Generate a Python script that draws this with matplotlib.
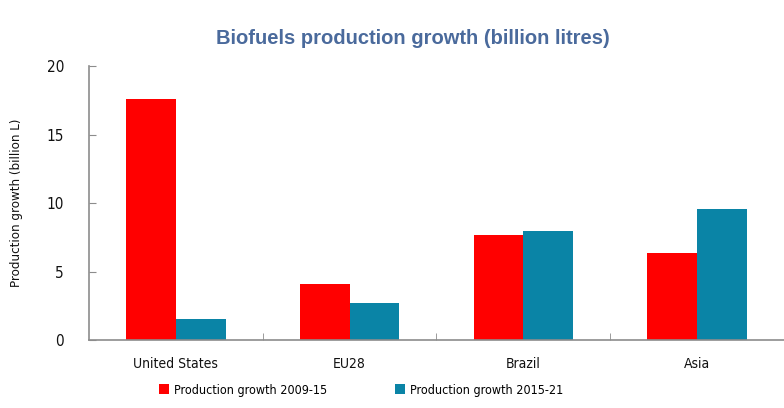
import numpy as np
import matplotlib
matplotlib.use("Agg")
from matplotlib import pyplot as plt

# data
regions = ["United States", "EU28", "Brazil", "Asia"]
growth_2009_15 = [17.6, 4.1, 7.65, 6.35]
growth_2015_21 = [1.5, 2.7, 7.95, 9.55]
series_names = ["Production growth 2009-15", "Production growth 2015-21"]
y_ticks = [0, 5, 10, 15, 20]

red = "#ff0000"
teal = "#0a84a6"
grey = "#8c8c8c"
label_font = dict(family="DejaVu Sans", stretch="condensed", color="#111111")

fig = plt.figure(figsize=(7.84, 4.08), dpi=100)
ax = fig.add_axes([0.1135, 0.1667, 0.8865, 0.6713])

x = np.arange(len(regions))
w = 0.287
ax.bar(x - w / 2, growth_2009_15, w, color=red, label=series_names[0])
ax.bar(x + w / 2, growth_2015_21, w, color=teal, label=series_names[1])

ax.set_xlim(-0.5, len(regions) - 0.5)
ax.set_ylim(0, 20)
ax.set_yticks(y_ticks)
ax.set_yticklabels([str(v) for v in y_ticks], fontsize=11, **label_font)

# category names at the centres, tick marks at the boundaries
ax.set_xticks(x)
ax.set_xticklabels(regions, fontsize=10, **label_font)
ax.set_xticks(np.arange(0.5, len(regions) - 0.5), minor=True)
ax.tick_params(axis="x", which="major", length=0, pad=12)
ax.tick_params(axis="x", which="minor", direction="in", length=5, color=grey)
ax.tick_params(axis="y", direction="in", length=5, color=grey, pad=18)

for side in ["top", "right"]:
    ax.spines[side].set_visible(False)
for side in ["left", "bottom"]:
    ax.spines[side].set_color(grey)
    ax.spines[side].set_linewidth(1.2)

ax.set_ylabel("Production growth (billion L)", fontsize=9.5, **label_font)
ax.yaxis.set_label_coords(-0.095, 0.5)

fig.text(0.527, 0.905, "Biofuels production growth (billion litres)",
         ha="center", va="center", fontsize=14.5, fontweight="bold",
         family="Liberation Sans", color="#4a6a9c")

fig.legend(loc="center", bbox_to_anchor=(0.461, 0.044), ncol=2, frameon=False,
           handlelength=0.8, handleheight=0.8, handletextpad=0.4, columnspacing=5.4,
           prop=dict(family="DejaVu Sans", stretch="condensed", size=9))

fig.savefig("out.png", dpi=100)
